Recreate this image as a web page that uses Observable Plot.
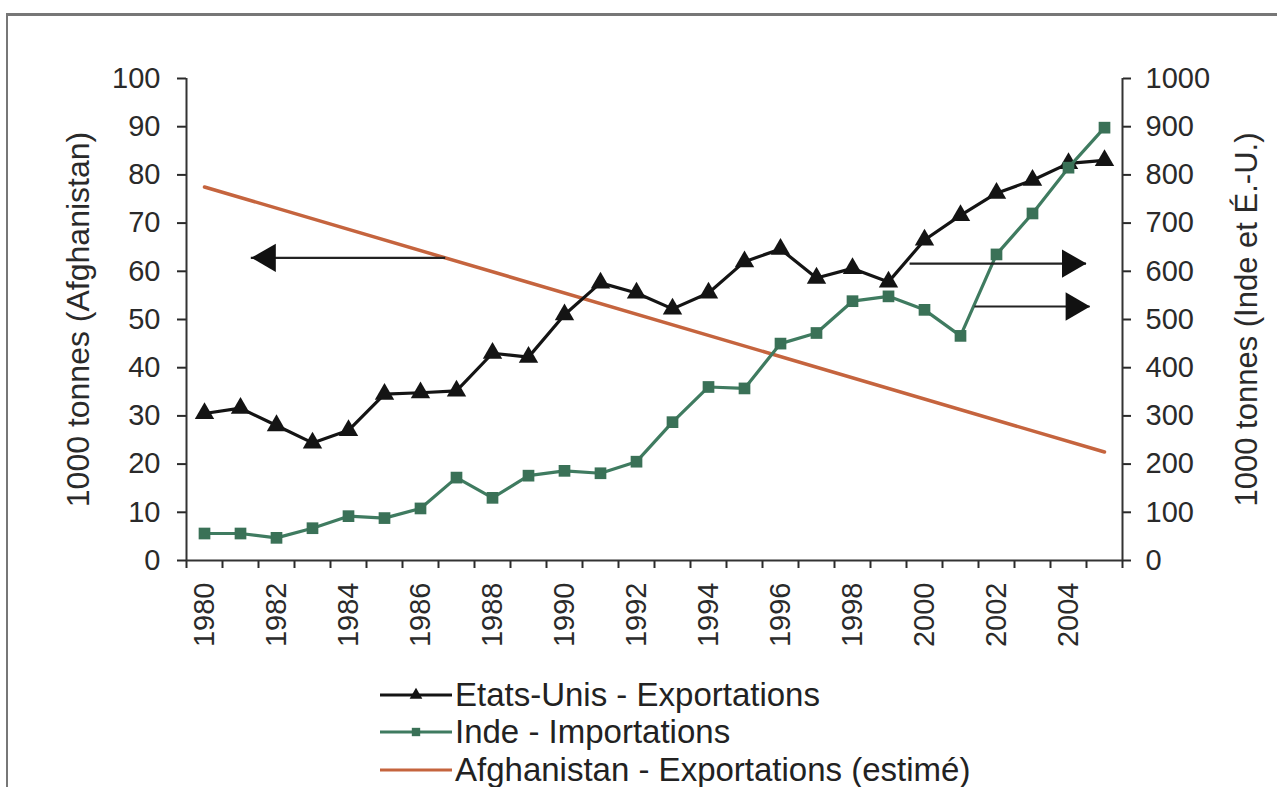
<!DOCTYPE html>
<html>
<head>
<meta charset="utf-8">
<script src="https://cdn.jsdelivr.net/npm/d3@7"></script>
<script src="https://cdn.jsdelivr.net/npm/@observablehq/plot@0.6"></script>
<style>
  body { margin: 0; background: #fff; font-family: "Liberation Sans", Arial, sans-serif; }
  #wrap { position: relative; width: 1277px; height: 787px; overflow: hidden; background: #fff; }
  #border { position: absolute; left: 6px; top: 13px; width: 1320px; height: 820px;
            border-top: 3px solid #777; border-left: 2px solid #777; }
  #chart { position: absolute; left: 0; top: 0; }
  #legend { position: absolute; left: 380px; top: 676px; font-size: 33px; color: #222; }
  .row { display: flex; align-items: center; height: 37.5px; white-space: nowrap; }
  .row svg { margin-right: 3px; }
</style>
</head>
<body>
<div id="wrap">
  <div id="border"></div>
  <div id="chart"></div>
  <div id="legend"></div>
</div>
<script>
// ---- data ----
const years = [1980, 1981, 1982, 1983, 1984, 1985, 1986, 1987, 1988, 1989, 1990, 1991, 1992,
               1993, 1994, 1995, 1996, 1997, 1998, 1999, 2000, 2001, 2002, 2003, 2004, 2005];
// 1000 tonnes, right axis
const usExports = [305, 316, 280, 244, 270, 345, 348, 352, 430, 422, 510, 576, 555,
                   522, 555, 620, 646, 586, 606, 578, 665, 716, 762, 789, 824, 830];
const indiaImports = [56, 56, 47, 67, 92, 88, 108, 172, 130, 176, 186, 181, 205,
                      287, 360, 357, 450, 472, 538, 548, 520, 466, 635, 720, 815, 898];
// 1000 tonnes, left axis (estimate)
const afgYears = [1980, 2005];
const afgExports = [77.5, 22.5];

const xTickLabels = [1980, 1982, 1984, 1986, 1988, 1990, 1992, 1994, 1996, 1998, 2000, 2002, 2004];
const leftTicks = [0, 10, 20, 30, 40, 50, 60, 70, 80, 90, 100];
const rightTicks = [0, 100, 200, 300, 400, 500, 600, 700, 800, 900, 1000];

const leftLabel = "1000 tonnes (Afghanistan)";
const rightLabel = "1000 tonnes (Inde et É.-U.)";
const seriesNames = ["Etats-Unis - Exportations", "Inde - Importations", "Afghanistan - Exportations (estimé)"];

// annotation arrows (x in years, level in left-axis units)
const arrowFrom = [1986.7, 1999.6, 2001.4];
const arrowTo = [1981.3, 2004.5, 2004.6];
const arrowLevel = [62.8, 61.6, 52.7];

const colors = { us: "#141414", india: "#3f7b60", indiaMark: "#3a7157", afg: "#c5643e" };

// ---- tables ----
const usData = years.map((year, i) => ({ year, value: usExports[i] }));
const inData = years.map((year, i) => ({ year, value: indiaImports[i] }));
const afgData = afgYears.map((year, i) => ({ year, value: afgExports[i] }));
const arrows = arrowFrom.map((x1, i) => ({ x1, x2: arrowTo[i], y: arrowLevel[i], dir: arrowTo[i] > x1 ? 1 : -1 }));
const edges = d3.range(years[0] - 0.5, years[years.length - 1] + 1, 1);

const headR = 10.5;
const headOffset = 2 * Math.sqrt(Math.PI * headR * headR / (3 * Math.sqrt(3)));

const chart = Plot.plot({
  width: 1277,
  height: 660,
  marginTop: 78,
  marginBottom: 100,
  marginLeft: 186,
  marginRight: 155,
  style: { fontFamily: "'Liberation Sans', Arial, sans-serif", color: "#2a2a2a", background: "transparent" },
  x: { type: "linear", domain: [edges[0], edges[edges.length - 1]] },
  y: { domain: [0, 100] },
  marks: [
    Plot.axisY({ anchor: "left", ticks: leftTicks, tickSize: 9, tickPadding: 17, fontSize: 29, label: null, strokeWidth: 2 }),
    Plot.axisY({ anchor: "right", ticks: leftTicks, tickFormat: (d) => String(d * 10), tickSize: 8, tickPadding: 15, fontSize: 29, label: null, strokeWidth: 2 }),
    Plot.axisX({ ticks: edges, tickSize: 8, tickFormat: () => "", strokeWidth: 2, label: null }),
    Plot.axisX({ ticks: xTickLabels, tickFormat: (d) => String(d), tickRotate: -90, fontSize: 29, tickSize: 0, tickPadding: 22, label: null }),
    Plot.text([leftLabel], { frameAnchor: "left", textAnchor: "middle", lineAnchor: "middle", rotate: -90, dx: -108, fontSize: 32, fill: "#2a2a2a" }),
    Plot.text([rightLabel], { frameAnchor: "right", textAnchor: "middle", lineAnchor: "middle", rotate: -90, dx: 125, fontSize: 31, fill: "#2a2a2a" }),
    Plot.ruleY([0], { stroke: "#333", strokeWidth: 2 }),
    Plot.ruleX([edges[0], edges[edges.length - 1]], { stroke: "#333", strokeWidth: 2 }),
    Plot.line(afgData, { x: "year", y: "value", stroke: colors.afg, strokeWidth: 3.5 }),
    Plot.line(usData, { x: "year", y: (d) => d.value / 10, stroke: colors.us, strokeWidth: 3.2 }),
    Plot.dot(usData, { x: "year", y: (d) => d.value / 10, symbol: "triangle", r: 7.2, fill: colors.us, stroke: "none" }),
    Plot.line(inData, { x: "year", y: (d) => d.value / 10, stroke: colors.india, strokeWidth: 3.2 }),
    Plot.dot(inData, { x: "year", y: (d) => d.value / 10, symbol: "square", r: 6.6, fill: colors.indiaMark, stroke: "none" }),
    Plot.ruleY(arrows, { x1: "x1", x2: "x2", y: "y", stroke: "#222", strokeWidth: 2.2 }),
    Plot.dot(arrows.filter((a) => a.dir > 0), { x: "x2", y: "y", symbol: "triangle", r: headR, rotate: 90, fill: "#111", stroke: "none", dx: -headOffset }),
    Plot.dot(arrows.filter((a) => a.dir < 0), { x: "x2", y: "y", symbol: "triangle", r: headR, rotate: -90, fill: "#111", stroke: "none", dx: headOffset })
  ]
});
document.getElementById("chart").appendChild(chart);

// ---- legend ----
const legend = d3.select("#legend");
const items = [
  { name: seriesNames[0], color: colors.us, marker: "triangle" },
  { name: seriesNames[1], color: colors.india, marker: "square" },
  { name: seriesNames[2], color: colors.afg, marker: null }
];
items.forEach((it) => {
  const row = legend.append("div").attr("class", "row");
  const svg = row.append("svg").attr("width", 72).attr("height", 24);
  svg.append("line").attr("x1", 0).attr("x2", 72).attr("y1", 12).attr("y2", 12)
    .attr("stroke", it.color).attr("stroke-width", 3);
  if (it.marker) {
    svg.append("path")
      .attr("transform", "translate(36,12)")
      .attr("d", d3.symbol(it.marker === "triangle" ? d3.symbolTriangle : d3.symbolSquare, 70)())
      .attr("fill", it.marker === "square" ? colors.indiaMark : it.color);
  }
  row.append("span").text(it.name);
});
</script>
</body>
</html>
